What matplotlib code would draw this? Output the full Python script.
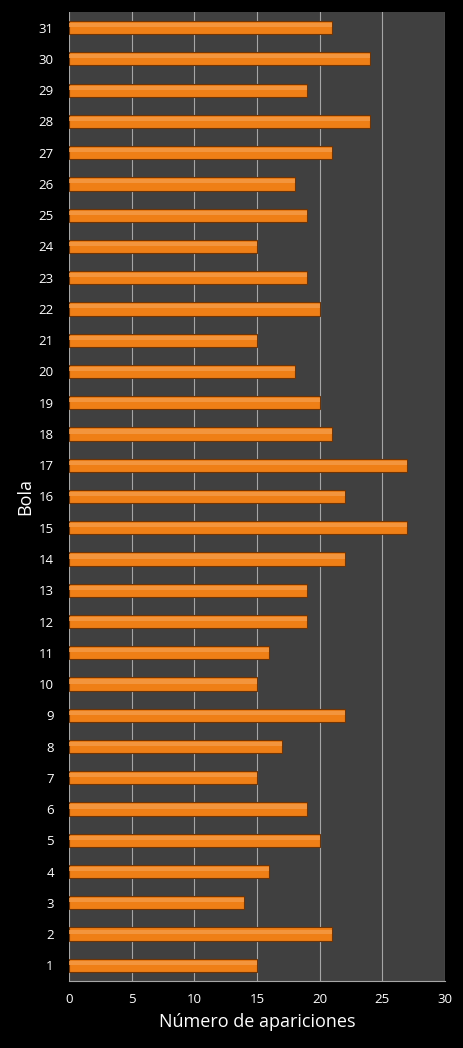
"""Frecuencia de aparición de cada bola (barras horizontales)."""

import matplotlib
matplotlib.use("Agg")
import matplotlib.pyplot as plt
import numpy as np

bolas = list(range(1, 32))
apariciones = [15, 21, 14, 16, 20, 19, 15, 17, 22, 15,
               16, 19, 19, 22, 27, 22, 27, 21, 20, 18,
               15, 20, 19, 15, 19, 18, 21, 24, 19, 24, 21]
x_ticks = [0, 5, 10, 15, 20, 25, 30]

plt.rcParams["font.family"] = ["Open Sans", "DejaVu Sans"]

fig = plt.figure(figsize=(4.63, 10.48), dpi=100, facecolor="black")
ax = fig.add_axes([0.149, 0.064, 0.812, 0.9245])
ax.set_facecolor("#404040")

y = np.arange(len(bolas))
ax.barh(y, apariciones, height=0.42, color="#ef7f16", edgecolor="#6e3406",
        linewidth=0.8, zorder=3)
# brillo superior para imitar el bisel
ax.barh(y + 0.08, apariciones, height=0.13, color="#f59b48", linewidth=0,
        alpha=0.8, zorder=4)

ax.set_xlim(0, 30)
ax.set_ylim(-0.5, len(bolas) - 0.5)
ax.set_xticks(x_ticks)
ax.set_yticks(y)
ax.set_yticklabels([str(b) for b in bolas])
ax.xaxis.grid(True, color="#a6a6a6", linewidth=0.8, zorder=1)
ax.set_axisbelow(True)

for side in ["top", "right", "left"]:
    ax.spines[side].set_visible(False)
ax.spines["bottom"].set_color("#a6a6a6")
ax.tick_params(axis="both", colors="white", labelsize=9.5, length=0)
ax.tick_params(axis="y", pad=11)
ax.tick_params(axis="x", pad=9)

ax.set_xlabel("Número de apariciones", color="white", fontsize=13, labelpad=5)
ax.set_ylabel("Bola", color="white", fontsize=13, labelpad=3)

fig.savefig("out.png", dpi=100, facecolor="black")
